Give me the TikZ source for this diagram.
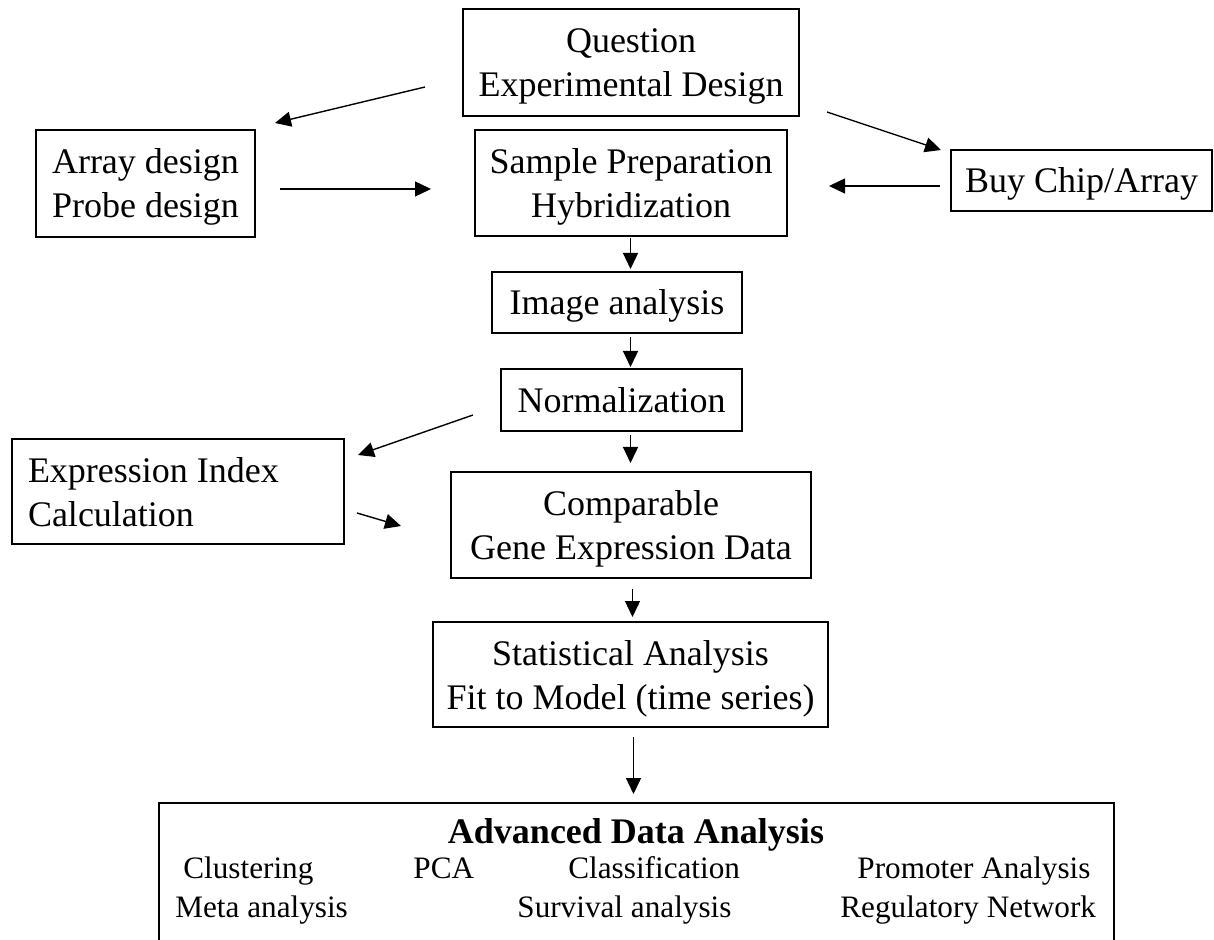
\documentclass[tikz,border=0pt]{standalone}
\usepackage{fontspec}
\setmainfont{Liberation Serif}
\usetikzlibrary{arrows.meta}
% fixed line metrics so every box line sits on the same baseline grid
\newcommand\bxstrut{\rule[-4.5pt]{0pt}{21.5pt}}
\begin{document}
\begin{tikzpicture}[x=0.5pt,y=-0.5pt,
  stage/.style={draw=black, line width=0.75pt, inner sep=0pt, align=center,
    font=\fontsize{18pt}{22pt}\selectfont},
  flow/.style={line width=0.7pt, -{Triangle[length=8pt,width=7.5pt]}},
  item/.style={anchor=base west, inner sep=0pt, font=\fontsize{15.6pt}{19pt}\selectfont}]
\useasboundingbox (0,0) rectangle (1214,940);

% workflow boxes
\node[stage, minimum width=168pt, minimum height=53.5pt] (question) at (631,62.5)
  {\bxstrut Question\\\bxstrut Experimental Design};
\node[stage, minimum width=109.5pt, minimum height=53.5pt] (arraydes) at (145.5,183.5)
  {\bxstrut Array design\\\bxstrut Probe design};
\node[stage, minimum width=156pt, minimum height=53pt] (sampleprep) at (631,183)
  {\bxstrut Sample Preparation\\\bxstrut Hybridization};
\node[stage, minimum width=130.5pt, minimum height=30.5pt] (buychip) at (1081.5,180.5)
  {\bxstrut Buy Chip/Array};
\node[stage, minimum width=125pt, minimum height=30.5pt] (image) at (617,302.5)
  {\bxstrut Image analysis};
\node[stage, minimum width=120.5pt, minimum height=31pt] (norm) at (621.5,400)
  {\bxstrut Normalization};
\node[stage, align=left, inner xsep=8pt, text width=150pt, minimum height=52.5pt] (exprindex) at (178,491.5)
  {\spaceskip=0pt\xspaceskip=0pt\bxstrut Expression Index\\\bxstrut Calculation};
\node[stage, line width=1pt, minimum width=180pt, minimum height=53pt] (comparable) at (631,525)
  {\bxstrut Comparable\\\bxstrut Gene Expression Data};
\node[stage, minimum width=197.5pt, minimum height=52.5pt] (stats) at (630.5,674.5)
  {\bxstrut Statistical Analysis\\\bxstrut Fit to Model (time series)};

% advanced analysis panel (runs off the lower edge)
\node[minimum width=477.5pt, minimum height=69pt, inner sep=0pt] (advanced) at (636.5,872) {};
\draw[line width=1pt] (advanced.south west) -- (advanced.north west)
  -- (advanced.north east) -- (advanced.south east);
\node[anchor=base, inner sep=0pt, font=\fontsize{18pt}{22pt}\selectfont\bfseries] (advtitle) at (636,843)
  {Advanced Data Analysis};
\node[item] (clustering) at (183,878) {Clustering};
\node[item] (pca) at (413,878) {PCA};
\node[item] (classification) at (568,878) {Classification};
\node[item] (promoter) at (857,878) {Promoter Analysis};
\node[item] (meta) at (175,917) {Meta analysis};
\node[item] (survival) at (517,917) {Survival analysis};
\node[item] (regnet) at (840,917) {Regulatory Network};

% connector end points
\coordinate (qa-s) at (425,87);    \coordinate (qa-e) at (275,123);
\coordinate (as-s) at (280,189);   \coordinate (as-e) at (431,189);
\coordinate (qb-s) at (827,112);   \coordinate (qb-e) at (941,150);
\coordinate (bs-s) at (940,186);   \coordinate (bs-e) at (829,186);
\coordinate (si-s) at (630.5,238); \coordinate (si-e) at (630.5,269);
\coordinate (in-s) at (630.5,337); \coordinate (in-e) at (630.5,367);
\coordinate (ne-s) at (473,415);   \coordinate (ne-e) at (358,455);
\coordinate (nc-s) at (630.5,435); \coordinate (nc-e) at (630.5,463);
\coordinate (ec-s) at (357,513);   \coordinate (ec-e) at (401,526);
\coordinate (cs-s) at (632.5,589); \coordinate (cs-e) at (632.5,617);
\coordinate (sa-s) at (633.5,737); \coordinate (sa-e) at (633.5,794);

% connectors
\draw[flow] (qa-s) -- (qa-e);
\draw[flow] (as-s) -- (as-e);
\draw[flow] (qb-s) -- (qb-e);
\draw[flow] (bs-s) -- (bs-e);
\draw[flow] (si-s) -- (si-e);
\draw[flow] (in-s) -- (in-e);
\draw[flow] (ne-s) -- (ne-e);
\draw[flow] (nc-s) -- (nc-e);
\draw[flow] (ec-s) -- (ec-e);
\draw[flow] (cs-s) -- (cs-e);
\draw[flow] (sa-s) -- (sa-e);
\end{tikzpicture}
\end{document}
